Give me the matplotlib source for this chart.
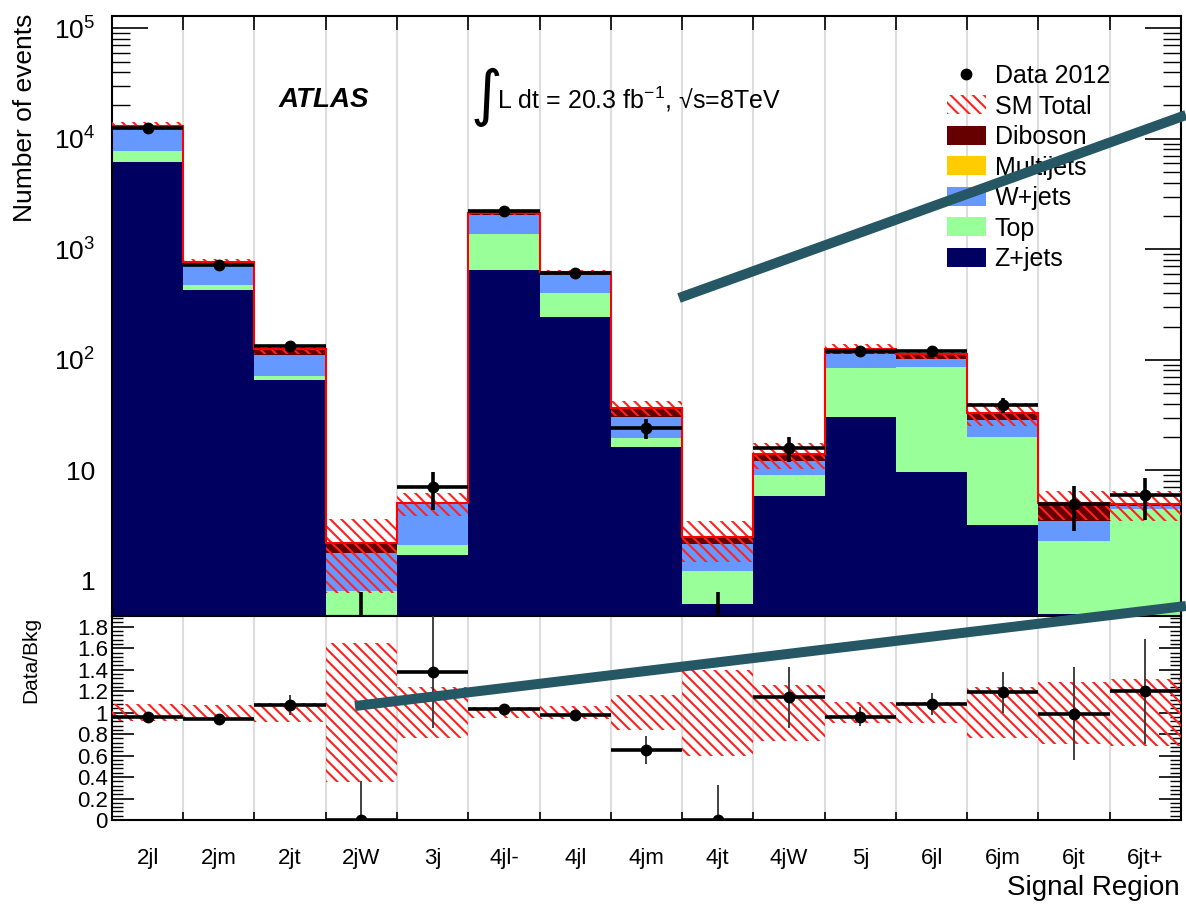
import numpy as np
import matplotlib
matplotlib.use("Agg")
import matplotlib.pyplot as plt
from matplotlib.patches import Patch
from matplotlib.lines import Line2D
from matplotlib.ticker import LogLocator, FuncFormatter, MultipleLocator, NullFormatter

plt.rcParams["font.family"] = ["Liberation Sans", "DejaVu Sans"]
plt.rcParams["mathtext.fontset"] = "custom"
plt.rcParams["mathtext.rm"] = "Liberation Sans"
plt.rcParams["mathtext.it"] = "Liberation Sans:italic"
plt.rcParams["mathtext.bf"] = "Liberation Sans:bold"
plt.rcParams["hatch.linewidth"] = 1.5

# signal regions and yields
regions = ["2jl", "2jm", "2jt", "2jW", "3j", "4jl-", "4jl", "4jm", "4jt", "4jW",
           "5j", "6jl", "6jm", "6jt", "6jt+"]
data = np.array([12600, 720, 134, 0, 7, 2200, 605, 24, 0, 16, 121, 121, 39, 5, 6])
data_err = np.array([112, 27, 12, 0.8, 2.65, 47, 25, 4.9, 0.8, 4.0, 11, 11, 6.2, 2.2, 2.45])

zjets = np.array([6150, 424, 65, 0.1, 1.72, 655, 245, 16.1, 0.62, 5.9, 30.6, 9.6, 3.2, 0.5, 0.3])
top = np.array([1610, 47, 7, 0.71, 0.38, 725, 155, 3.5, 0.61, 3.1, 53, 77, 16.6, 1.8, 4.2])
wjets = np.array([4900, 229, 39, 0.99, 2.85, 670, 180, 10.9, 0.92, 3.1, 30, 16, 8.8, 1.2, 0.25])
multijets = np.array([0, 0, 0, 0, 0, 0, 0, 0, 0, 0, 0, 0, 0, 0, 0])
diboson = np.array([490, 66, 14, 0.41, 0.12, 86, 37, 6.3, 0.32, 1.9, 12, 9.4, 4.2, 1.55, 0.25])
# relative uncertainty on SM total
sm_unc = np.array([0.08, 0.07, 0.09, 0.65, 0.24, 0.05, 0.06, 0.16, 0.40, 0.26,
                   0.10, 0.10, 0.24, 0.29, 0.31])

c_z = "#000060"
c_top = "#99ff99"
c_w = "#6699ff"
c_mj = "#ffcc00"
c_db = "#660000"
hatch = "\\\\\\"

n = len(regions)
x = np.arange(n)
edges = np.arange(n + 1) - 0.5
total = zjets + top + wjets + multijets + diboson

fig = plt.figure(figsize=(11.86, 9.11), dpi=100)
ax = fig.add_axes([0.0944, 0.3238, 0.9014, 0.6586])
rax = fig.add_axes([0.0944, 0.0999, 0.9014, 0.2239])

# stacked backgrounds
bottom = np.full(n, 1e-3)
for vals, col in [(zjets, c_z), (top, c_top), (wjets, c_w), (multijets, c_mj), (diboson, c_db)]:
    ax.bar(x, vals, width=1.0, bottom=bottom, color=col, linewidth=0, zorder=2)
    bottom = bottom + vals

ax.bar(x, 2 * total * sm_unc, width=1.0, bottom=total * (1 - sm_unc), fill=False,
       hatch=hatch, edgecolor="#ff2020", linewidth=0, zorder=3)
ax.stairs(total, edges, baseline=None, color="red", lw=1.5, zorder=4)

ax.errorbar(x, data, xerr=0.5, yerr=[np.minimum(data_err, data), data_err], fmt="o",
            color="k", ms=7.5, elinewidth=2.6, capsize=0, zorder=5)

ax.set_yscale("log")
ax.set_xlim(-0.5, n - 0.5)
ax.set_ylim(0.48, 1.29e5)
ax.set_axisbelow(True)
ax.set_xticks(edges)
ax.grid(axis="x", which="major", color="#dddddd", lw=1.5)
ax.tick_params(axis="x", which="major", direction="in", top=True, bottom=True,
               labelbottom=False, length=10, width=1.2)
ax.yaxis.set_major_locator(LogLocator(base=10, numticks=10))
ax.yaxis.set_minor_locator(LogLocator(base=10, subs=np.arange(2, 10), numticks=20))
ax.yaxis.set_minor_formatter(NullFormatter())


def log_label(v, pos):
    e = int(round(np.log10(v)))
    if e == 0:
        return "1"
    if e == 1:
        return "10"
    return r"$10^{%d}$" % e


ax.yaxis.set_major_formatter(FuncFormatter(log_label))
ax.tick_params(axis="y", which="major", direction="in", left=True, right=True,
               length=26, width=1.2, labelsize=19, pad=12)
ax.tick_params(axis="y", which="minor", direction="in", left=True, right=True,
               length=13, width=1.0)

# ratio panel
ratio = data / total
ratio_err = data_err / total
rax.bar(x, 2 * sm_unc, width=1.0, bottom=1 - sm_unc, fill=False,
        hatch=hatch, edgecolor="#ff2020", linewidth=0, zorder=3)
rax.errorbar(x, ratio, yerr=[np.minimum(ratio_err, ratio), ratio_err], fmt="none",
             ecolor="#333333", elinewidth=1.3, capsize=0, zorder=4)
rax.errorbar(x, ratio, xerr=0.5, fmt="o", color="k", ms=7.5, elinewidth=2.6,
             capsize=0, zorder=5)

rax.set_xlim(-0.5, n - 0.5)
rax.set_ylim(0, 1.9)
rax.set_axisbelow(True)
rax.set_xticks(edges)
rax.set_xticks(x, minor=True)
rax.set_xticklabels([])
rax.set_xticklabels(regions, minor=True, fontsize=16)
rax.grid(axis="x", which="major", color="#dddddd", lw=1.5)
rax.tick_params(axis="x", which="major", direction="in", top=False, bottom=True,
                length=6, width=1.2)
rax.tick_params(axis="x", which="minor", length=0, pad=20)
rax.yaxis.set_major_locator(MultipleLocator(0.2))
rax.yaxis.set_minor_locator(MultipleLocator(0.04))
rax.yaxis.set_major_formatter(FuncFormatter(
    lambda v, p: "0" if abs(v) < 1e-6 else ("1" if abs(v - 1) < 1e-6 else "%.1f" % v)))
rax.tick_params(axis="y", which="major", direction="in", left=True, right=True,
                length=16, width=1.2, labelsize=16, pad=3)
rax.tick_params(axis="y", which="minor", direction="in", left=True, right=True,
                length=8, width=1.0)

for a in (ax, rax):
    for s in a.spines.values():
        s.set_linewidth(1.5)

# labels and texts
fig.text(25 / 1186, 1 - 14 / 911, "Number of events", rotation=90, ha="center", va="top",
         fontsize=19)
fig.text(31 / 1186, 1 - 617 / 911, "Data/Bkg", rotation=90, ha="center", va="top",
         fontsize=15)
fig.text(1180 / 1186, 1 - 888 / 911, "Signal Region", ha="right", va="center", fontsize=20)

ax.text((324 - 112) / 1069, (616 - 100) / 600, "ATLAS", transform=ax.transAxes,
        fontsize=20, fontweight="bold", fontstyle="italic", ha="center", va="center")
ax.text((486 - 112) / 1069, (616 - 97) / 600, "\u222b", transform=ax.transAxes,
        fontsize=44, ha="center", va="center", family="DejaVu Sans")
ax.text((497 - 112) / 1069, (616 - 99) / 600, r"L dt = 20.3 fb$^{-1}$, √s=8TeV",
        transform=ax.transAxes, fontsize=18, ha="left", va="center")

handles = [
    Line2D([], [], marker="o", color="k", linestyle="none", ms=7.5),
    Patch(facecolor="none", edgecolor="#ff2020", hatch=hatch, linewidth=0),
    Patch(facecolor=c_db, linewidth=0),
    Patch(facecolor=c_mj, linewidth=0),
    Patch(facecolor=c_w, linewidth=0),
    Patch(facecolor=c_top, linewidth=0),
    Patch(facecolor=c_z, linewidth=0),
]
labels = ["Data 2012", "SM Total", "Diboson", "Multijets", "W+jets", "Top", "Z+jets"]
ax.legend(handles, labels, loc="upper left", bbox_to_anchor=((947 - 112) / 1069, (616 - 64) / 600),
          frameon=False, fontsize=18, handlelength=1.55, handleheight=0.8,
          labelspacing=0.26, handletextpad=0.35, borderpad=0, borderaxespad=0)

# overlaid annotation strokes
over = fig.add_axes([0, 0, 1, 1], facecolor="none")
over.set_xlim(0, 1186)
over.set_ylim(911, 0)
over.axis("off")
stroke_1 = ([679, 1186], [298, 115])
stroke_2 = ([355, 1186], [706, 606])
for sx, sy in (stroke_1, stroke_2):
    over.plot(sx, sy, color="#265764", lw=7.2, solid_capstyle="butt")

fig.savefig("out.png", dpi=100)
